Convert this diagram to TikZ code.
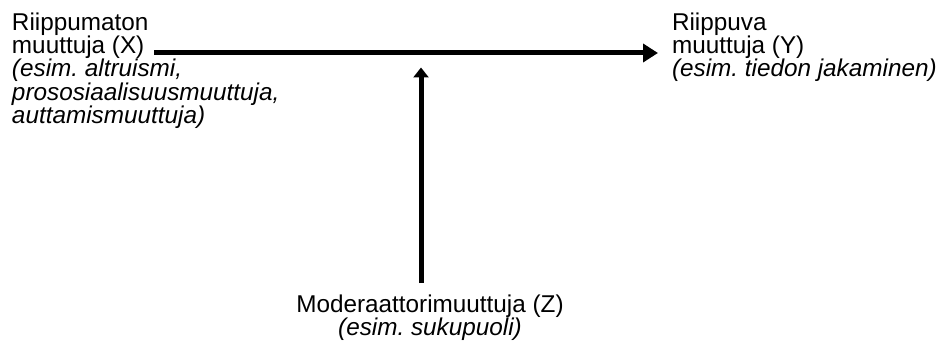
\documentclass[tikz,border=0pt]{standalone}
\usepackage{fontspec}
\setmainfont{Liberation Sans}
\usetikzlibrary{arrows.meta}
\frenchspacing
\begin{document}
\begin{tikzpicture}[x=1pt,y=-1pt,
  lbl/.style={inner sep=0pt,outer sep=0pt,font=\fontsize{24.3}{23.4}\selectfont},
  conn/.style={line width=5pt}]
\useasboundingbox (0,0) rectangle (939,342);
% variable labels
\node[lbl,anchor=north west,align=left] (X) at (12,12.5)
  {Riippumaton\\muuttuja (X)\\\textit{(esim. altruismi,}\\\textit{prososiaalisuusmuuttuja,}\\\textit{auttamismuuttuja)}};
\node[lbl,anchor=north west,align=left] (Y) at (672,12.5)
  {Riippuva\\muuttuja (Y)\\\textit{(esim. tiedon jakaminen)}};
\node[lbl,anchor=north,align=center] (Z) at (430,294.5)
  {Moderaattorimuuttuja (Z)\\\textit{(esim. sukupuoli)}};
% connector end points
\coordinate (xout) at (154,53);
\coordinate (yin) at (658,53);
\coordinate (zout) at (421,283);
\coordinate (mid) at (421,67.5);
% effect of X on Y
\draw[conn,-{Triangle[length=15pt,width=18pt]}] (xout) -- (yin);
% moderating effect of Z
\draw[conn,-{Triangle[length=10pt,width=15pt]}] (zout) -- (mid);
\end{tikzpicture}
\end{document}
